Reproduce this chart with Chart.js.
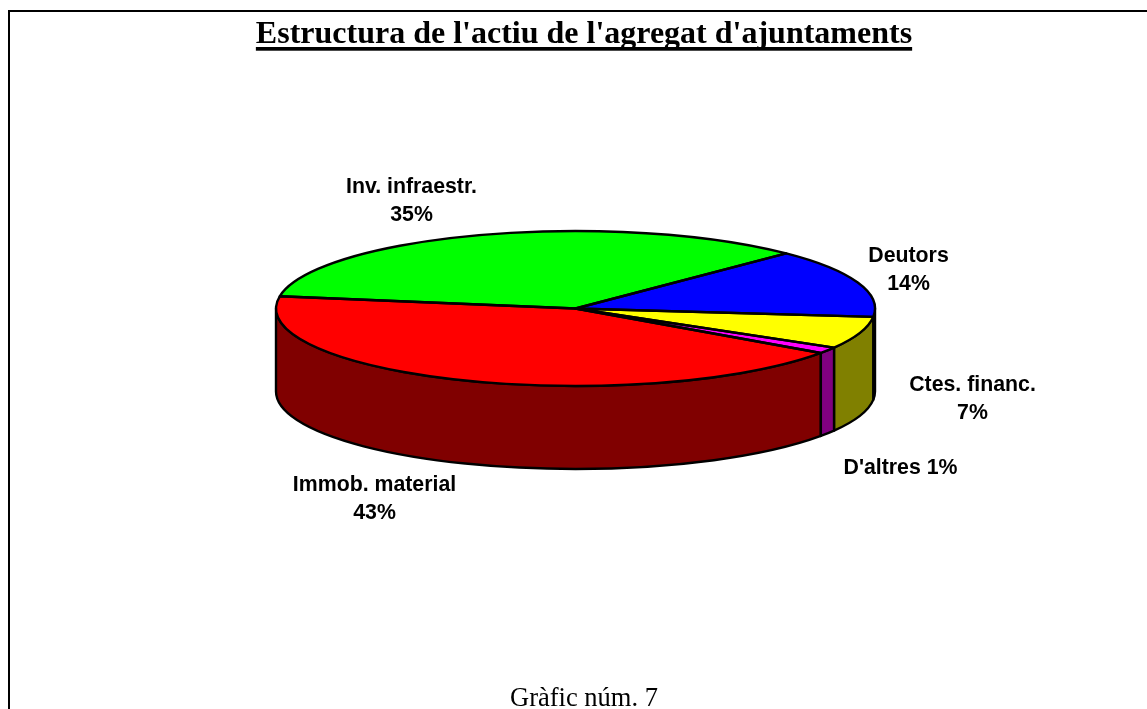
<!DOCTYPE html>
<html><head><meta charset="utf-8">
<style>html,body{margin:0;padding:0;background:#fff}canvas{display:block}</style>
<script src="https://cdn.jsdelivr.net/npm/chart.js@4"></script></head>
<body><canvas id="c" width="1147" height="709"></canvas>
<script>
const categories = ["Immob. material","Inv. infraestr.","Deutors","Ctes. financ.","D'altres"];
const values = [42.8,34.9,14.3,6.7,1.3];
const topColors = ["#ff0000","#00ff00","#0000ff","#ffff00","#ff00ff"];
const sideColors = ["#800000","#008000","#000080","#808000","#800080"];
const labelLines = [["Immob. material","43%"],["Inv. infraestr.","35%"],["Deutors","14%"],["Ctes. financ.","7%"],["D'altres 1%"]];
const labelCenters = [[374.5,485],[411.5,187],[908.5,256],[972.5,385],[900.5,468]];
const titleText = "Estructura de l'actiu de l'agregat d'ajuntaments";
const captionText = "Gràfic núm. 7";
const startRotation = 125;
const pie3d = {cx:575.5, cy:308.5, rx:299.5, ry:77.5, depth:83};

function project(arc){
  return {sx:pie3d.rx/arc.outerRadius, sy:pie3d.ry/arc.outerRadius};
}

const plugin3d = {
  id:'plugin3d',
  beforeDraw(chart){
    const c=chart.ctx; c.save();
    c.fillStyle='#fff'; c.fillRect(0,0,chart.width,chart.height);
    c.strokeStyle='#000'; c.lineWidth=2;
    c.beginPath(); c.moveTo(9,709); c.lineTo(9,11); c.lineTo(1147,11); c.stroke();
    c.restore();
  },
  beforeDatasetsDraw(chart){
    const c=chart.ctx, arcs=chart.getDatasetMeta(0).data, R=pie3d;
    c.save(); c.lineWidth=2.4; c.strokeStyle='#000'; c.lineJoin='round';
    arcs.forEach((arc,i)=>{
      const norm=a=>{a%=2*Math.PI; return a<0?a+2*Math.PI:a;};
      let s=norm(arc.startAngle), e=s+(arc.endAngle-arc.startAngle);
      [[s,e],[s-2*Math.PI,e-2*Math.PI]].forEach(([a,b])=>{
        const a1=Math.max(a,0), b1=Math.min(b,Math.PI);
        if(b1<=a1) return;
        c.beginPath();
        c.ellipse(R.cx,R.cy,R.rx,R.ry,0,a1,b1);
        c.ellipse(R.cx,R.cy+R.depth,R.rx,R.ry,0,b1,a1,true);
        c.closePath();
        c.fillStyle=sideColors[i]; c.fill(); c.stroke();
      });
    });
    c.restore();
    const arc=arcs[0], p=project(arc);
    c.save();
    c.translate(R.cx,R.cy); c.scale(p.sx,p.sy); c.translate(-arc.x,-arc.y);
  },
  afterDatasetsDraw(chart){
    const c=chart.ctx, arcs=chart.getDatasetMeta(0).data, R=pie3d;
    c.restore();
    c.save(); c.lineWidth=2.4; c.strokeStyle='#000'; c.lineJoin='round';
    arcs.forEach(arc=>{
      c.beginPath(); c.moveTo(R.cx,R.cy);
      c.ellipse(R.cx,R.cy,R.rx,R.ry,0,arc.startAngle,arc.endAngle);
      c.closePath(); c.stroke();
    });
    c.fillStyle='#000'; c.font='bold 32px "Liberation Serif"';
    const w=c.measureText(titleText).width;
    c.fillRect(584-w/2,47,w,3.7);
    c.font='bold 21.3px "Liberation Sans"'; c.textAlign='center'; c.textBaseline='middle';
    labelLines.forEach((lines,i)=>{
      lines.forEach((t,j)=>c.fillText(t,labelCenters[i][0],labelCenters[i][1]+j*28));
    });
    c.restore();
  }
};

new Chart(document.getElementById('c'),{
  type:'pie',
  data:{labels:categories,datasets:[{data:values,backgroundColor:topColors,borderWidth:0}]},
  options:{
    responsive:false,animation:false,rotation:startRotation,
    layout:{padding:{left:21,top:16.5,bottom:0,right:0}},
    plugins:{
      legend:{display:false},tooltip:{enabled:false},
      title:{display:true,text:titleText,color:'#000',position:'top',
        font:{family:'"Liberation Serif"',size:32,weight:'bold',lineHeight:1.15},padding:{top:0,bottom:10}},
      subtitle:{display:true,text:captionText,color:'#000',position:'bottom',
        font:{family:'"Liberation Serif"',size:26.5,weight:'normal',lineHeight:0.75},padding:0}
    }
  },
  plugins:[plugin3d]
});
</script></body></html>
